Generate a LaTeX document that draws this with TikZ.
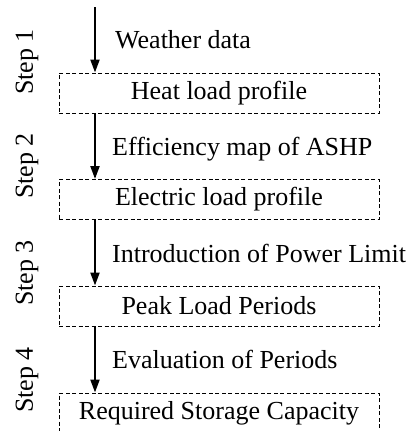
\documentclass[tikz,border=0pt]{standalone}
\usepackage{fontspec}
\setmainfont{Liberation Serif}
\usetikzlibrary{arrows.meta}
\begin{document}
\begin{tikzpicture}[x=1pt,y=-1pt,
  stepbox/.style={draw,line width=1pt,dash pattern=on 4pt off 2.5pt,minimum width=320pt,minimum height=40pt,inner sep=0pt,font=\fontsize{26}{28}\selectfont},
  flow/.style={line width=2.2pt,-{Triangle[length=13pt,width=9pt]}},
  lbl/.style={anchor=base west,inner sep=0pt,font=\fontsize{26}{28}\selectfont},
  steplbl/.style={rotate=90,inner sep=0pt,font=\fontsize{26}{28}\selectfont}]
\useasboundingbox (0,0) rectangle (419,431);
\clip (0,0) rectangle (419,431);
\node[stepbox] (b1) at (219,93) {Heat load profile};
\node[stepbox] (b2) at (219,199.5) {Electric load profile};
\node[stepbox] (b3) at (219,306) {Peak Load Periods};
\node[stepbox] (b4) at (219,413) {Required Storage Capacity};
\coordinate (top) at (95,7);
\draw[flow] (top) -- (top |- b1.north);
\draw[flow] (top |- b1.south) -- (top |- b2.north);
\draw[flow] (top |- b2.south) -- (top |- b3.north);
\draw[flow] (top |- b3.south) -- (top |- b4.north);
\node[lbl] (l1) at (115,48) {Weather data};
\node[lbl] (l2) at (112,155) {Efficiency map of ASHP};
\node[lbl] (l3) at (112,262.5) {Introduction of Power Limit};
\node[lbl] (l4) at (112,368) {Evaluation of Periods};
\node[steplbl] (s1) at (27,62) {Step 1};
\node[steplbl] (s2) at (27,166) {Step 2};
\node[steplbl] (s3) at (27,273) {Step 3};
\node[steplbl] (s4) at (27,380) {Step 4};
\end{tikzpicture}
\end{document}
